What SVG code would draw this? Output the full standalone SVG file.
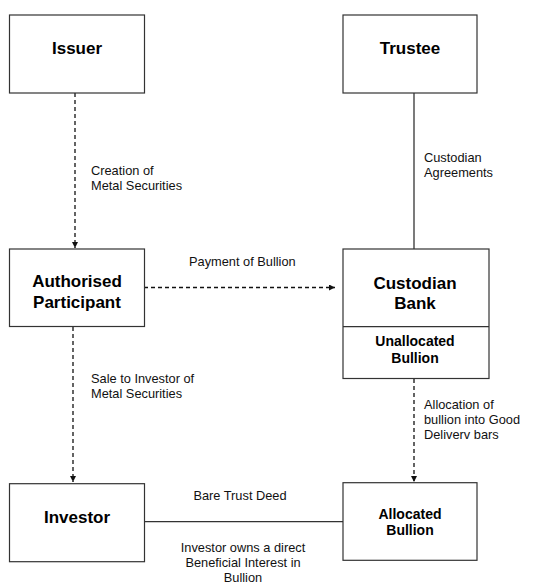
<svg xmlns="http://www.w3.org/2000/svg" width="539" height="583" viewBox="0 0 539 583">
<defs>
<style>
.box{fill:#fff;stroke:#333;stroke-width:1.2}
.t{font-family:"Liberation Sans",Arial,sans-serif;font-weight:bold;font-size:17px;text-anchor:middle;fill:#000}
.ts{font-family:"Liberation Sans",Arial,sans-serif;font-weight:bold;font-size:14px;text-anchor:middle;fill:#000}
.l{font-family:"Liberation Sans",Arial,sans-serif;font-size:12.8px;fill:#111}
.lc{font-family:"Liberation Sans",Arial,sans-serif;font-size:12.8px;fill:#111;text-anchor:middle}
.d{stroke:#111;stroke-width:1.3;stroke-dasharray:4 3;fill:none}
.s{stroke:#333;stroke-width:1.3;fill:none}
</style>
<marker id="ah" viewBox="0 0 10 10" refX="10" refY="5" markerWidth="6" markerHeight="6" markerUnits="userSpaceOnUse" orient="auto">
<path d="M0,0 L10,5 L0,10 z" fill="#111"/>
</marker>
</defs>
<rect width="539" height="583" fill="#fff"/>
<g id="connectors">
<line class="d" x1="75" y1="93" x2="75" y2="248" marker-end="url(#ah)"/>
<line class="s" x1="414" y1="93" x2="414" y2="249"/>
<line class="d" x1="144" y1="287.5" x2="335" y2="287.5" marker-end="url(#ah)"/>
<line class="d" x1="73" y1="327" x2="73" y2="482" marker-end="url(#ah)"/>
<line class="d" x1="414" y1="379" x2="414" y2="482" marker-end="url(#ah)"/>
<line class="s" x1="144" y1="521.7" x2="343" y2="521.7"/>
<text class="l" x="91" y="175">Creation of</text>
<text class="l" x="91" y="190">Metal Securities</text>
<text class="l" x="424" y="162">Custodian</text>
<text class="l" x="424" y="177">Agreements</text>
<text class="l" x="189" y="265.5">Payment of Bullion</text>
<text class="l" x="91" y="382.5">Sale to Investor of</text>
<text class="l" x="91" y="397.5">Metal Securities</text>
<text class="l" x="424" y="409">Allocation of</text>
<text class="l" x="424" y="424">bullion into Good</text>
<text class="l" x="424" y="439">Deliverv bars</text>
<text class="lc" x="240" y="500">Bare Trust Deed</text>
<text class="lc" x="243" y="551.5">Investor owns a direct</text>
<text class="lc" x="243" y="566.5">Beneficial Interest in</text>
<text class="lc" x="243" y="581.5">Bullion</text>
</g>
<g id="issuer">
<rect class="box" x="9.5" y="15" width="135" height="78"/>
<text class="t" x="77" y="54">Issuer</text>
</g>
<g id="trustee">
<rect class="box" x="343" y="15" width="134" height="78"/>
<text class="t" x="410" y="54">Trustee</text>
</g>
<g id="authorised-participant">
<rect class="box" x="9.5" y="249" width="135" height="77.5"/>
<text class="t" x="77" y="287">Authorised</text>
<text class="t" x="77" y="308">Participant</text>
</g>
<g id="custodian-bank">
<rect class="box" x="343" y="249" width="146" height="129.5"/>
<line class="box" x1="343" y1="326.7" x2="489" y2="326.7"/>
<text class="t" x="415" y="289">Custodian</text>
<text class="t" x="415" y="309">Bank</text>
<text class="ts" x="415" y="346">Unallocated</text>
<text class="ts" x="415" y="362.5">Bullion</text>
</g>
<g id="investor">
<rect class="box" x="9.5" y="483.7" width="135" height="78"/>
<text class="t" x="77" y="523">Investor</text>
</g>
<g id="allocated-bullion">
<rect class="box" x="343" y="482.7" width="134" height="77.6"/>
<text class="ts" x="410" y="519.3">Allocated</text>
<text class="ts" x="410" y="535">Bullion</text>
</g>
</svg>
